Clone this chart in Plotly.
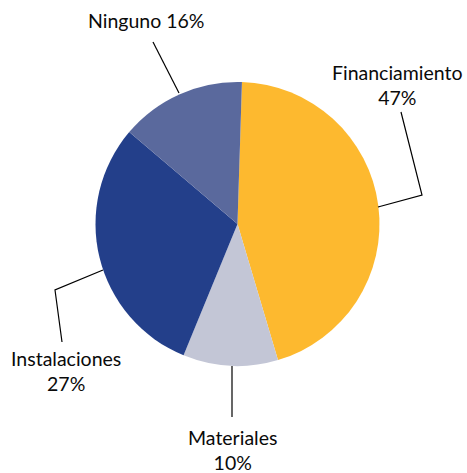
import plotly.graph_objects as go

# Data
categories = ["Financiamiento", "Materiales", "Instalaciones", "Ninguno"]
slice_values = [44.9, 10.8, 30.0, 14.3]      # shares as drawn in the picture
pct_labels = ["47%", "10%", "27%", "16%"]    # percentages printed on the chart
colors = ["#FDB92F", "#C3C6D6", "#233F8A", "#5A699D"]

W, H = 467, 473

def px(x):
    return x / W

def py(y):
    return 1 - y / H

fig = go.Figure(go.Pie(
    labels=categories,
    values=slice_values,
    sort=False,
    direction="clockwise",
    rotation=1.8,
    marker=dict(colors=colors, line=dict(width=0)),
    textinfo="none",
    hoverinfo="label+percent",
    domain=dict(x=[px(95.5), px(379.5)], y=[py(366), py(82)]),
    showlegend=False,
))

# leader lines (pixel paths)
leaders = [
    [(378, 207), (422, 195), (401, 112)],
    [(232, 366), (232, 417)],
    [(103, 270), (55, 290), (62, 342)],
    [(179, 93), (153, 42)],
]
shapes = []
for pts in leaders:
    path = "M " + " L ".join(f"{px(x):.5f},{py(y):.5f}" for x, y in pts)
    shapes.append(dict(type="path", xref="paper", yref="paper", path=path,
                       line=dict(color="#000000", width=1.2)))

label_pos = [(397, 85, True), (232, 450, True), (66, 371, True), (146, 20, False)]
annotations = []
for cat, pct, (x, y, two) in zip(categories, pct_labels, label_pos):
    txt = f"{cat}<br>{pct}" if two else f"{cat} {pct}"
    annotations.append(dict(x=px(x), y=py(y), xref="paper", yref="paper",
                            text=txt, showarrow=False, xanchor="center",
                            yanchor="middle", align="center",
                            font=dict(family="Lato", size=19.5, color="#0a0a0a")))

fig.update_layout(
    width=W, height=H,
    margin=dict(l=0, r=0, t=0, b=0),
    paper_bgcolor="white",
    plot_bgcolor="white",
    shapes=shapes,
    annotations=annotations,
)

fig.write_html("out.html", config={"displayModeBar": False},
               post_script="document.body.style.margin='0';")
